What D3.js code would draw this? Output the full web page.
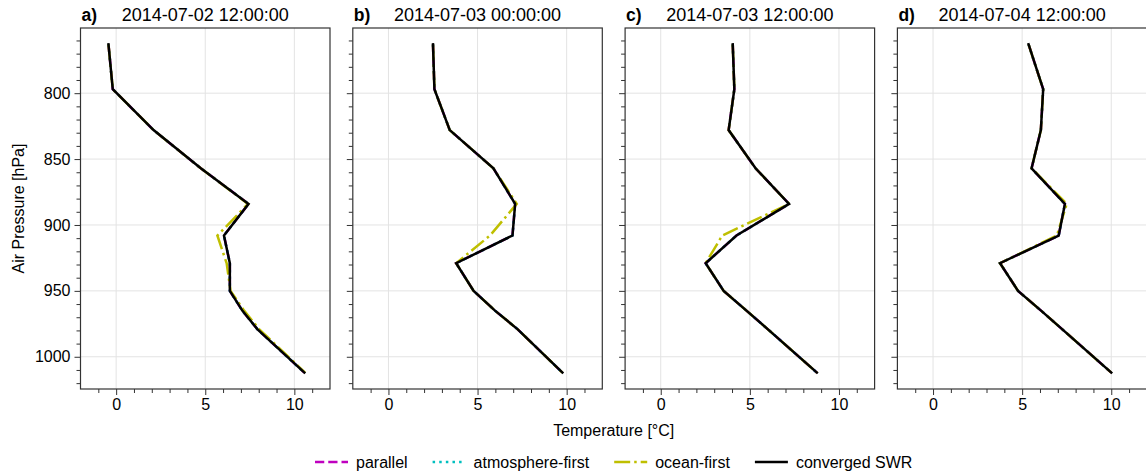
<!DOCTYPE html>
<html>
<head>
<meta charset="utf-8">
<script src="https://cdn.jsdelivr.net/npm/d3@7"></script>
<style>
  html, body { margin: 0; padding: 0; background: #fff; }
  svg { display: block; font-family: "Liberation Sans", Arial, sans-serif; }
</style>
</head>
<body>
<svg id="chart" width="1146" height="476"></svg>
<script>
// ---------------- data ----------------
const pressureLevels = [763, 797, 828, 857, 884, 908, 929, 950, 965, 979, 1012];

const panelLetters = ["a)", "b)", "c)", "d)"];
const panelTitles = ["2014-07-02 12:00:00", "2014-07-03 00:00:00", "2014-07-03 12:00:00", "2014-07-04 12:00:00"];

// temperature [°C] per panel and scheme
const parallelA   = [-0.43, -0.19, 2.1, 4.75, 7.43, 6.05, 6.38, 6.38, 7.08, 7.92, 10.56];
const parallelB   = [2.5, 2.58, 3.44, 5.89, 7.11, 6.96, 3.8, 4.78, 5.98, 7.24, 9.76];
const parallelC   = [4.04, 4.13, 3.81, 5.32, 7.2, 4.25, 2.52, 3.53, 4.81, 6.0, 8.76];
const parallelD   = [5.36, 6.18, 6.05, 5.53, 7.4, 7.05, 3.76, 4.77, 6.06, 7.24, 10.0];

const atmosFirstA = [-0.43, -0.19, 2.1, 4.75, 7.43, 6.05, 6.38, 6.38, 7.08, 7.92, 10.56];
const atmosFirstB = [2.5, 2.58, 3.44, 5.89, 7.11, 6.96, 3.8, 4.78, 5.98, 7.24, 9.76];
const atmosFirstC = [4.04, 4.13, 3.81, 5.32, 7.2, 4.25, 2.52, 3.53, 4.81, 6.0, 8.76];
const atmosFirstD = [5.36, 6.18, 6.05, 5.53, 7.4, 7.05, 3.76, 4.77, 6.06, 7.24, 10.0];

const oceanFirstA = [-0.43, -0.19, 2.1, 4.75, 7.4, 5.68, 6.2, 6.42, 7.18, 8.02, 10.6];
const oceanFirstB = [2.5, 2.58, 3.44, 5.89, 7.2, 5.7, 3.8, 4.78, 5.98, 7.24, 9.76];
const oceanFirstC = [4.04, 4.13, 3.81, 5.32, 7.2, 3.45, 2.52, 3.53, 4.81, 6.0, 8.76];
const oceanFirstD = [5.36, 6.18, 6.05, 5.53, 7.5, 6.95, 3.76, 4.77, 6.06, 7.24, 10.0];

const convergedA  = [-0.43, -0.19, 2.1, 4.75, 7.43, 6.05, 6.38, 6.38, 7.08, 7.92, 10.56];
const convergedB  = [2.5, 2.58, 3.44, 5.89, 7.11, 6.96, 3.8, 4.78, 5.98, 7.24, 9.76];
const convergedC  = [4.04, 4.13, 3.81, 5.32, 7.2, 4.25, 2.52, 3.53, 4.81, 6.0, 8.76];
const convergedD  = [5.36, 6.18, 6.05, 5.53, 7.4, 7.05, 3.76, 4.77, 6.06, 7.24, 10.0];

const seriesNames = ["parallel", "atmosphere-first", "ocean-first", "converged SWR"];
const xTicks = [0, 5, 10];
const xMinorTicks = [-1, 1, 2, 3, 4, 6, 7, 8, 9, 11];
const yTicks = [800, 850, 900, 950, 1000];
const yMinorTicks = [760, 770, 780, 790, 810, 820, 830, 840, 860, 870, 880, 890, 910, 920, 930, 940, 960, 970, 980, 990, 1010, 1020];

// ---------------- styling ----------------
const panelSeries = [
  [parallelA, atmosFirstA, oceanFirstA, convergedA],
  [parallelB, atmosFirstB, oceanFirstB, convergedB],
  [parallelC, atmosFirstC, oceanFirstC, convergedC],
  [parallelD, atmosFirstD, oceanFirstD, convergedD]
];
const LW = 2.5;
const seriesStyle = [
  { color: "#bf00bf", dash: (3.7*LW) + "," + (1.6*LW) },
  { color: "#00bfbf", dash: (1*LW) + "," + (1.65*LW) },
  { color: "#bfbf00", dash: (6.4*LW) + "," + (1.6*LW) + "," + (1*LW) + "," + (1.6*LW) },
  { color: "#000000", dash: null }
];

const svg = d3.select("#chart");

const plotTop = 28, plotBottom = 389;
const panelW = 249.5, panelStep = 272.3, left0 = 80.5;

// y scale: pressure with 5% margins
const pMin = d3.min(pressureLevels), pMax = d3.max(pressureLevels);
const pad = (pMax - pMin) * 0.05;
const y = d3.scaleLinear().domain([pMin - pad, pMax + pad]).range([plotTop, plotBottom]);

const gridColor = "#e3e3e3";
const spineColor = "#333";

panelSeries.forEach((series, i) => {
  const x0 = left0 + i * panelStep;
  const x = d3.scaleLinear().domain([-2, 12]).range([x0, x0 + panelW]);
  const g = svg.append("g");

  // gridlines
  g.selectAll("line.gx").data(xTicks).join("line")
    .attr("x1", d => x(d)).attr("x2", d => x(d))
    .attr("y1", plotTop).attr("y2", plotBottom)
    .attr("stroke", gridColor).attr("stroke-width", 1);
  g.selectAll("line.gy").data(yTicks).join("line")
    .attr("x1", x0).attr("x2", x0 + panelW)
    .attr("y1", d => y(d)).attr("y2", d => y(d))
    .attr("stroke", gridColor).attr("stroke-width", 1);

  // lines
  const line = d3.line()
    .x(d => x(d[0]))
    .y(d => y(d[1]));
  series.forEach((vals, s) => {
    const pts = vals.map((v, k) => [v, pressureLevels[k]]);
    const p = g.append("path")
      .datum(pts)
      .attr("d", line)
      .attr("fill", "none")
      .attr("stroke", seriesStyle[s].color)
      .attr("stroke-width", LW)
      .attr("stroke-linejoin", "miter")
      .attr("stroke-linecap", seriesStyle[s].dash ? "butt" : "square");
    if (seriesStyle[s].dash) p.attr("stroke-dasharray", seriesStyle[s].dash);
  });

  // x axis
  const xAxis = d3.axisBottom(x).tickValues(xTicks).tickSize(6).tickPadding(4)
    .tickFormat(d3.format("d"));
  const gx = g.append("g").attr("transform", `translate(0,${plotBottom})`).call(xAxis);
  const xMinor = d3.axisBottom(x).tickValues(xMinorTicks).tickSize(4).tickFormat("");
  const gxm = g.append("g").attr("transform", `translate(0,${plotBottom})`).call(xMinor);

  // y axis
  const yAxis = d3.axisLeft(y).tickValues(yTicks).tickSize(6).tickPadding(4)
    .tickFormat(i === 0 ? d3.format("d") : "");
  const gy = g.append("g").attr("transform", `translate(${x0},0)`).call(yAxis);
  const yMinor = d3.axisLeft(y).tickValues(yMinorTicks).tickSize(4).tickFormat("");
  const gym = g.append("g").attr("transform", `translate(${x0},0)`).call(yMinor);

  [gx, gxm, gy, gym].forEach(a => {
    a.select(".domain").remove();
    a.selectAll(".tick line").attr("stroke", spineColor).attr("stroke-width", 1);
    a.selectAll(".tick text").attr("fill", "#000")
      .style("font-size", "16px").style("font-family", '"Liberation Sans", Arial, sans-serif');
  });

  // spines
  g.append("rect")
    .attr("x", x0).attr("y", plotTop)
    .attr("width", panelW).attr("height", plotBottom - plotTop)
    .attr("fill", "none").attr("stroke", spineColor).attr("stroke-width", 1.2);

  // titles
  g.append("text")
    .attr("x", x0 + 1).attr("y", 21)
    .style("font-size", "17.5px").style("font-weight", "bold")
    .text(panelLetters[i]);
  g.append("text")
    .attr("x", x0 + panelW / 2).attr("y", 21)
    .attr("text-anchor", "middle")
    .style("font-size", "18px")
    .text(panelTitles[i]);
});

// axis labels
const plotCenter = (left0 + left0 + 3 * panelStep + panelW) / 2;
svg.append("text")
  .attr("x", plotCenter).attr("y", 436)
  .attr("text-anchor", "middle")
  .style("font-size", "16px")
  .text("Temperature [°C]");

svg.append("text")
  .attr("transform", `translate(24,${(plotTop + plotBottom) / 2}) rotate(-90)`)
  .attr("text-anchor", "middle")
  .style("font-size", "16px")
  .text("Air Pressure [hPa]");

// legend
const legend = svg.append("g");
const handleLen = 33, handlePad = 8, itemGap = 25, legendY = 462;
const items = [];
seriesNames.forEach((name, s) => {
  const it = legend.append("g");
  const l = it.append("line")
    .attr("x1", 0).attr("x2", handleLen)
    .attr("y1", 0).attr("y2", 0)
    .attr("stroke", seriesStyle[s].color)
    .attr("stroke-width", LW);
  if (seriesStyle[s].dash) l.attr("stroke-dasharray", seriesStyle[s].dash);
  const t = it.append("text")
    .attr("x", handleLen + handlePad).attr("y", 5.5)
    .style("font-size", "16px")
    .text(name);
  const w = handleLen + handlePad + t.node().getComputedTextLength();
  items.push({ it, w });
});
const totalW = d3.sum(items, d => d.w) + itemGap * (items.length - 1);
let cx = plotCenter - totalW / 2;
items.forEach(d => {
  d.it.attr("transform", `translate(${cx},${legendY})`);
  cx += d.w + itemGap;
});
</script>
</body>
</html>
